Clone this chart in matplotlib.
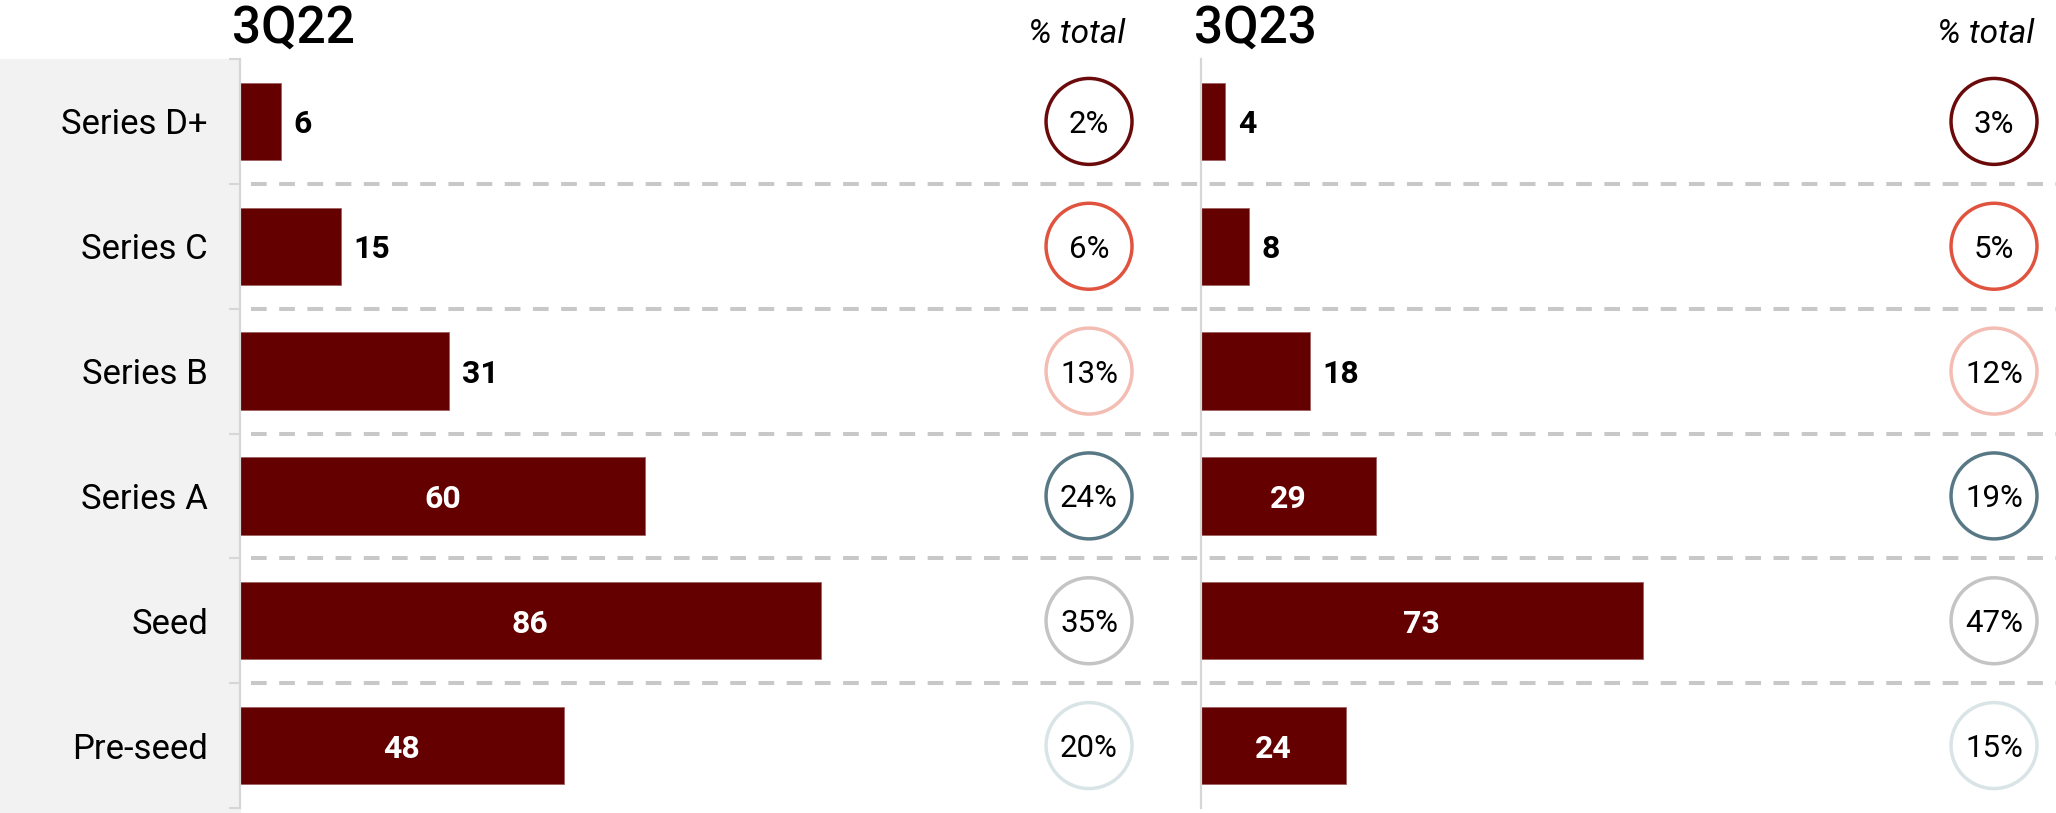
import numpy as np
import matplotlib.pyplot as plt
from matplotlib.patches import Rectangle
import matplotlib.transforms as mtransforms

plt.rcParams['font.family'] = ['Roboto', 'DejaVu Sans']

stages = ['Series D+', 'Series C', 'Series B', 'Series A', 'Seed', 'Pre-seed']
deals_3q22 = [6, 15, 31, 60, 86, 48]
deals_3q23 = [4, 8, 18, 29, 73, 24]
share_3q22 = [2, 6, 13, 24, 35, 20]
share_3q23 = [3, 5, 12, 19, 47, 15]
periods = ['3Q22', '3Q23']

ring_colors = ['#6b0a0a', '#e0533f', '#f4bdb3', '#587885', '#c4c4c4', '#d9e4e7']
bar_color = '#640000'

W, H = 2056, 813
fig = plt.figure(figsize=(W / 100, H / 100), dpi=100)

def box(left, right, top, bottom):
    return [left / W, (H - bottom) / H, (right - left) / W, (bottom - top) / H]

# grey band behind the stage names
fig.add_artist(Rectangle((0, 0), 241 / W, (H - 59) / H, transform=fig.transFigure,
                         facecolor='#f2f2f2', edgecolor='none', zorder=0))

y = np.arange(len(stages))

# dashed separators across both panels
ax_bg = fig.add_axes(box(240, W, 59, 808), zorder=0)
ax_bg.set_xlim(0, 1)
ax_bg.set_ylim(len(stages) - 0.5, -0.5)
ax_bg.hlines(y[:-1] + 0.5, (251 - 240) / (W - 240), 1, color='#c8c8c8',
             linewidth=2.9, linestyle=(0, (3.9, 3.1)))
ax_bg.axis('off')

panels = [
    (deals_3q22, share_3q22, box(240, 1150, 59, 808), 134.8, 0.933, 40),
    (deals_3q23, share_3q23, box(1201, W, 59, 808), 141.3, 0.9275, 20),
]

for k, (vals, shares, rect, xmax, ring_x, inside_min) in enumerate(panels):
    ax = fig.add_axes(rect, zorder=2)
    ax.set_facecolor('none')
    ax.barh(y, vals, height=0.62, color=bar_color, edgecolor='#a06060', linewidth=0.6)
    ax.set_xlim(0, xmax)
    ax.set_ylim(len(stages) - 0.5, -0.5)
    for s in ['top', 'right', 'bottom']:
        ax.spines[s].set_visible(False)
    ax.spines['left'].set_color('#d6d6d6')
    ax.spines['left'].set_linewidth(1.6)
    ax.set_xticks([])

    for i, v in enumerate(vals):
        if v >= inside_min:
            ax.text(v / 2, i, str(v), ha='center', va='center_baseline',
                    color='white', fontsize=23, fontweight='bold')
        else:
            ax.annotate(str(v), (v, i), xytext=(9, 0), textcoords='offset points',
                        ha='left', va='center_baseline', color='black',
                        fontsize=23, fontweight='bold')

    trans = mtransforms.blended_transform_factory(ax.transAxes, ax.transData)
    ax.scatter([ring_x] * len(y), y, s=3830, facecolor='white', edgecolor=ring_colors,
               linewidths=2.5, transform=trans, clip_on=False, zorder=3)
    for i, p in enumerate(shares):
        ax.text(ring_x, i, f'{p}%', transform=trans, ha='center', va='center_baseline',
                fontsize=22.5, color='black', zorder=4)

    if k == 0:
        ax.set_yticks(y)
        ax.set_yticklabels(stages, fontsize=25)
        ax.tick_params(axis='y', which='major', length=0, pad=23)
        ax.set_yticks(np.arange(len(stages) + 1) - 0.5, minor=True)
        ax.tick_params(axis='y', which='minor', length=8, width=1.5, color='#d6d6d6')
    else:
        ax.set_yticks([])

# titles and column headers
fig.text(232 / W, (H - 43) / H, periods[0], fontsize=37, fontweight='medium',
         va='baseline', ha='left')
fig.text(1194 / W, (H - 43) / H, periods[1], fontsize=37, fontweight='medium',
         va='baseline', ha='left')
fig.text(1077 / W, (H - 43) / H, '% total', fontsize=24, fontstyle='italic',
         va='baseline', ha='center')
fig.text(1986 / W, (H - 43) / H, '% total', fontsize=24, fontstyle='italic',
         va='baseline', ha='center')

fig.savefig('out.png', dpi=100)
